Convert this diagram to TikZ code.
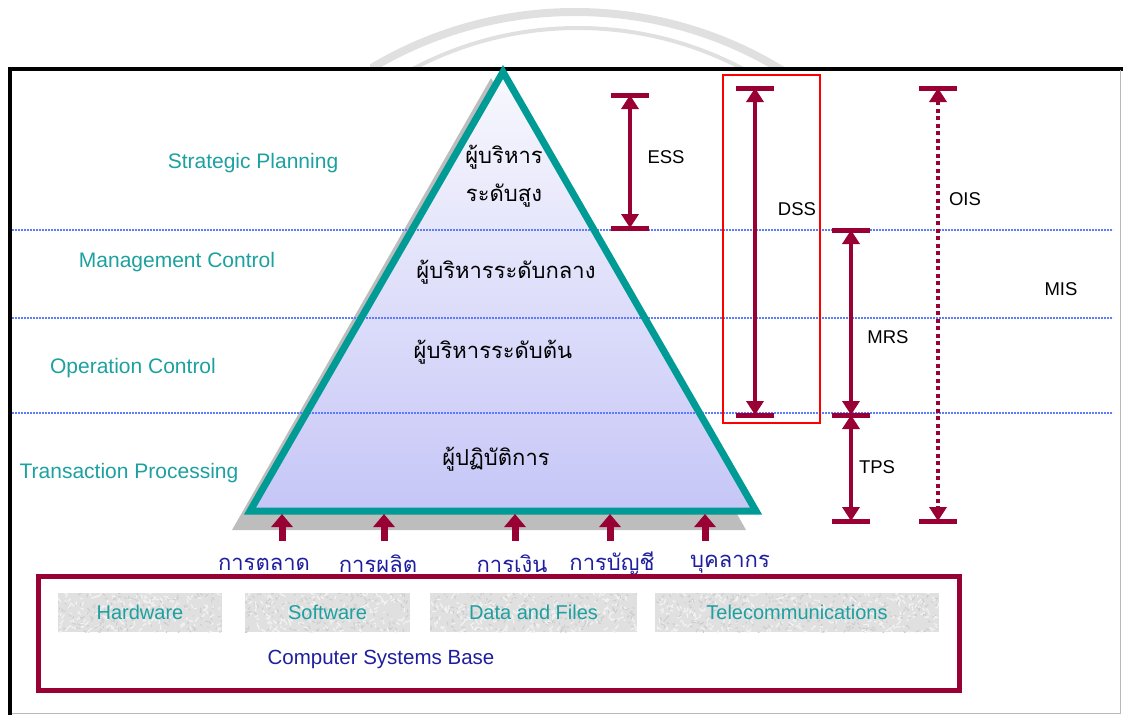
\documentclass[tikz,border=0pt]{standalone}
\usepackage{fontspec}
\setmainfont{Liberation Sans}
\newfontfamily\thaifont[Script=Thai]{Loma}
\usetikzlibrary{arrows.meta}
\definecolor{maroon}{HTML}{990033}
\definecolor{tealline}{HTML}{009B95}
\definecolor{tealtext}{HTML}{1DA0A0}
\definecolor{navytext}{HTML}{1E1E9E}
\definecolor{gridblue}{HTML}{5C7CFF}
\definecolor{pyrtop}{HTML}{F8F8FE}
\definecolor{pyrbot}{HTML}{C6C6F7}
\definecolor{arcgray}{HTML}{E0E0E0}
\definecolor{tilegray}{HTML}{E0E0E0}
\definecolor{tiledark}{HTML}{CDCDCD}
\definecolor{tilelight}{HTML}{F2F2F2}
\definecolor{shadowgray}{HTML}{BDBDBD}
\begin{document}
\begin{tikzpicture}[x=1pt,y=-1pt,
  level/.style={text=tealtext,font=\fontsize{21}{25}\selectfont},
  rank/.style={font=\thaifont\fontsize{22}{26}\selectfont},
  dept/.style={text=navytext,font=\thaifont\fontsize{22}{26}\selectfont},
  tag/.style={font=\fontsize{18.5}{22}\selectfont},
  tile/.style={minimum height=39pt,inner sep=0pt,
    text=tealtext,font=\fontsize{20}{24}\selectfont},
  gridline/.style={gridblue,line width=1.3pt,dash pattern=on 1.6pt off 1.4pt},
  span/.style={maroon,line width=4.5pt,
    {Triangle[width=17pt,length=14pt]}-{Triangle[width=17pt,length=14pt]}},
  endbar/.style={maroon,line width=5pt},
  feed/.style={maroon,line width=7pt,-{Triangle[width=21pt,length=13pt]}}]
\useasboundingbox (0,0) rectangle (1123,715);

% decorative arcs peeking above the frame
\begin{scope}
  \clip (370,0) rectangle (790,68);
  \draw[arcgray,line width=8pt] (575,409) circle[radius=397pt];
  \draw[arcgray,line width=4pt] (578,381) circle[radius=353pt];
\end{scope}

% frame
\draw[black,line width=4pt] (8,69) -- (1123,69);
\draw[black,line width=4pt] (10,67) -- (10,715);
\draw[gray!55,line width=1pt] (1120,70) -- (1120,713) -- (12,713);

% pyramid with its shadow
\coordinate (apex) at (503,72);
\coordinate (bl) at (250,511);
\coordinate (br) at (756,511);
\fill[shadowgray] (491,78) -- (232,530) -- (746,530) -- cycle;
\shade[top color=pyrtop,bottom color=pyrbot] (apex) -- (bl) -- (br) -- cycle;

% level separators
\draw[gridline] (12,230) -- (1113,230);
\draw[gridline] (12,318) -- (1113,318);
\draw[gridline] (12,413) -- (1113,413);

\draw[tealline,line width=7pt,line join=miter] (apex) -- (bl) -- (br) -- cycle;

% management levels
\node[level] (sp) at (253,163) {Strategic Planning};
\node[level] (mc) at (177,262) {Management Control};
\node[level] (oc) at (133,368) {Operation Control};
\node[level] (tp) at (129,473) {Transaction Processing};

\node[rank] (top1) at (504,157) {ผู้บริหาร};
\node[rank] (top2) at (504,196) {ระดับสูง};
\node[rank] (mid) at (506,272) {ผู้บริหารระดับกลาง};
\node[rank] (low) at (493,352) {ผู้บริหารระดับต้น};
\node[rank] (ops) at (496,459) {ผู้ปฏิบัติการ};

% functional areas feeding the pyramid
\node[dept] (d1) at (264,564) {การตลาด};
\node[dept] (d2) at (378,564) {การผลิต};
\node[dept] (d3) at (512,564) {การเงิน};
\node[dept] (d4) at (612,564) {การบัญชี};
\node[dept] (d5) at (730,564) {บุคลากร};
\foreach \i/\x in {1/282,2/384,3/515,4/610,5/705}{
  \coordinate (f\i) at (\x,541);
  \coordinate (g\i) at (\x,514);
  \draw[feed] (f\i) -- (g\i);
}

% system ranges
\draw[red,line width=1.3pt] (723,75) rectangle (820,423);
\coordinate (essT) at (630,95);  \coordinate (essB) at (630,228);
\coordinate (dssT) at (755,88);  \coordinate (dssB) at (755,415);
\coordinate (mrsT) at (851,230); \coordinate (mrsB) at (851,415);
\coordinate (tpsT) at (851,415); \coordinate (tpsB) at (851,521);
\coordinate (oisT) at (938,88);  \coordinate (oisB) at (938,521);
\foreach \c in {essT,essB,dssT,dssB,mrsT,mrsB,tpsB,oisT,oisB}{
  \draw[endbar] (\c) ++(-19,0) -- ++(38,0);
}
\draw[span] (essT) -- (essB);
\draw[span] (dssT) -- (dssB);
\draw[span] (mrsT) -- (mrsB);
\draw[span] (tpsT) -- (tpsB);
\draw[span,dash pattern=on 4pt off 3.5pt] (oisT) -- (oisB);

\node[tag] (ess) at (666,157) {ESS};
\node[tag] (dss) at (797,209) {DSS};
\node[tag] (mrs) at (888,337) {MRS};
\node[tag] (tps) at (877,467) {TPS};
\node[tag] (ois) at (965,199) {OIS};
\node[tag] (mis) at (1061,289) {MIS};

% computer systems base
\draw[maroon,line width=5pt] (38,576) rectangle (959,690);
% granite-textured tiles
\pgfmathsetseed{7}
\foreach \xa/\w in {58/164,245/165,430/207,655/284}{
  \begin{scope}
    \clip (\xa,593) rectangle ++(\w,39);
    \fill[tilegray] (\xa,593) rectangle ++(\w,39);
    \foreach \k in {1,...,\w}{
      \pgfmathsetmacro{\px}{\xa+rnd*\w}
      \pgfmathsetmacro{\py}{593+rnd*39}
      \pgfmathsetmacro{\dx}{rnd*8-4}
      \pgfmathsetmacro{\dy}{rnd*8-4}
      \draw[tilelight,line width=1.3pt,line cap=round] (\px,\py) -- ++(\dx,\dy);
      \pgfmathsetmacro{\qx}{\xa+rnd*\w}
      \pgfmathsetmacro{\qy}{593+rnd*39}
      \draw[tiledark,line width=1pt,line cap=round] (\qx,\qy) -- ++(rnd*6-3,rnd*6-3);
    }
  \end{scope}
}
\node[tile,minimum width=164pt] (hw) at (140,612.5) {Hardware};
\node[tile,minimum width=165pt] (sw) at (327.5,612.5) {Software};
\node[tile,minimum width=207pt] (df) at (533.5,612.5) {Data and Files};
\node[tile,minimum width=284pt] (tc) at (797,612.5) {Telecommunications};
\node[text=navytext,font=\fontsize{20.5}{24}\selectfont] (csb) at (381,659) {Computer Systems Base};
\end{tikzpicture}
\end{document}
